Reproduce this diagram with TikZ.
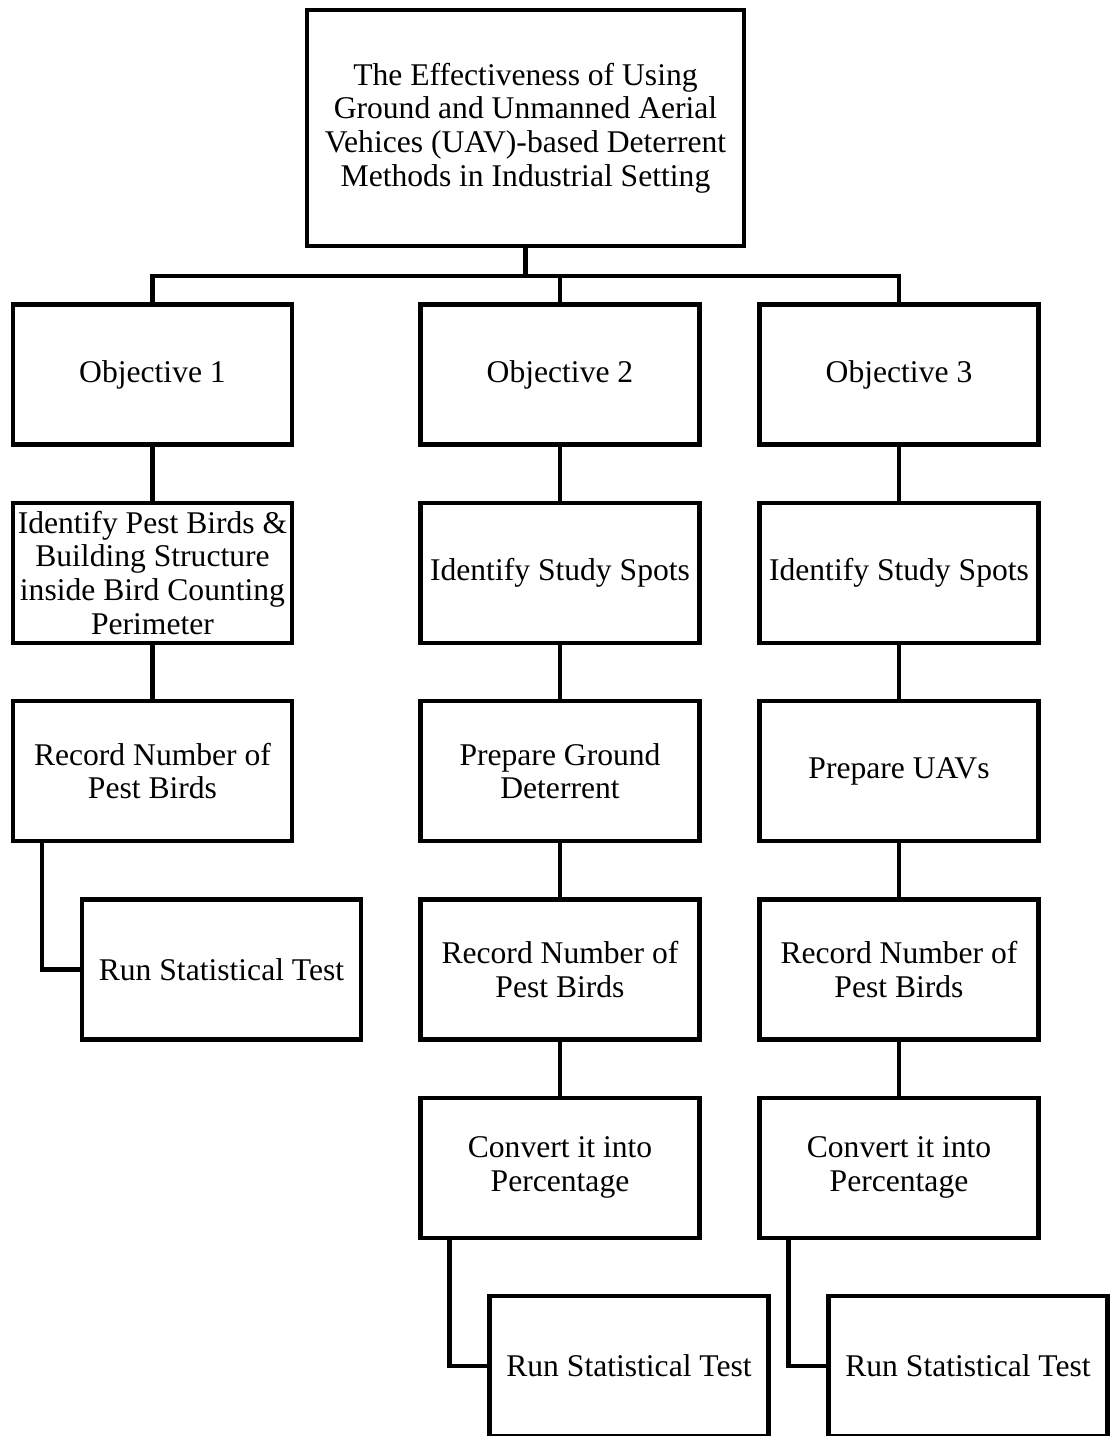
\documentclass[tikz,border=0pt]{standalone}
\usepackage{fontspec}
\setmainfont{Liberation Serif}
\usetikzlibrary{positioning}

\begin{document}
\begin{tikzpicture}[
    x=0.5pt, y=-0.5pt, % pixel-like units, y pointing down
    node distance=29.15pt, % gap between rows
    box/.style={draw, line width=2.2pt, minimum width=139.5pt, minimum height=70pt,
        inner sep=0pt, outer sep=0pt, align=center, font=\fontsize{15.8}{16.8}\selectfont}, % Style for boxes
    titlebox/.style={box, minimum width=218.5pt, minimum height=117.75pt}, % Style for the title box
    link/.style={line width=2.2pt} % Style for connectors
]
    \useasboundingbox (0,0) rectangle (1112,1436);

    % Title
    \node[titlebox] (title) at (525.5,128) {The Effectiveness of Using\\ Ground and Unmanned Aerial\\ Vehices (UAV)-based Deterrent\\ Methods in Industrial Setting};

    % Objectives
    \node[box] (obj1) at (152.5,374.5) {Objective 1};
    \node[box] (obj2) at (560,374.5) {Objective 2};
    \node[box] (obj3) at (899,374.5) {Objective 3};

    % Column 1
    \node[box, below=of obj1] (spot1) {Identify Pest Birds \&\\ Building Structure\\ inside Bird Counting\\ Perimeter};
    \node[box, below=of spot1] (rec1) {Record Number of\\ Pest Birds};
    \node[box, below=of rec1, xshift=34.5pt] (test1) {Run Statistical Test};

    % Column 2
    \node[box, below=of obj2] (spot2) {Identify Study Spots};
    \node[box, below=of spot2] (prep2) {Prepare Ground\\ Deterrent};
    \node[box, below=of prep2] (rec2) {Record Number of\\ Pest Birds};
    \node[box, below=of rec2] (conv2) {Convert it into\\ Percentage};
    \node[box, below=of conv2, xshift=34.5pt] (test2) {Run Statistical Test};

    % Column 3
    \node[box, below=of obj3] (spot3) {Identify Study Spots};
    \node[box, below=of spot3] (prep3) {Prepare UAVs};
    \node[box, below=of prep3] (rec3) {Record Number of\\ Pest Birds};
    \node[box, below=of rec3] (conv3) {Convert it into\\ Percentage};
    \node[box, below=of conv3, xshift=34.5pt] (test3) {Run Statistical Test};

    % Bus from the title to the objectives
    \coordinate (bus) at (525.5,276);
    \draw[link] (title.south) -- (bus);
    \draw[link] (obj1.north) |- (bus) -| (obj3.north);
    \draw[link] (obj2.north) -- (obj2.north |- bus);

    % Vertical links
    \draw[link] (obj1) -- (spot1) -- (rec1);
    \draw[link] (obj2) -- (spot2) -- (prep2) -- (rec2) -- (conv2);
    \draw[link] (obj3) -- (spot3) -- (prep3) -- (rec3) -- (conv3);

    % Elbow links to the tests
    \draw[link] ([xshift=14.5pt]rec1.south west) |- (test1.west);
    \draw[link] ([xshift=14.5pt]conv2.south west) |- (test2.west);
    \draw[link] ([xshift=14.5pt]conv3.south west) |- (test3.west);

\end{tikzpicture}
\end{document}
